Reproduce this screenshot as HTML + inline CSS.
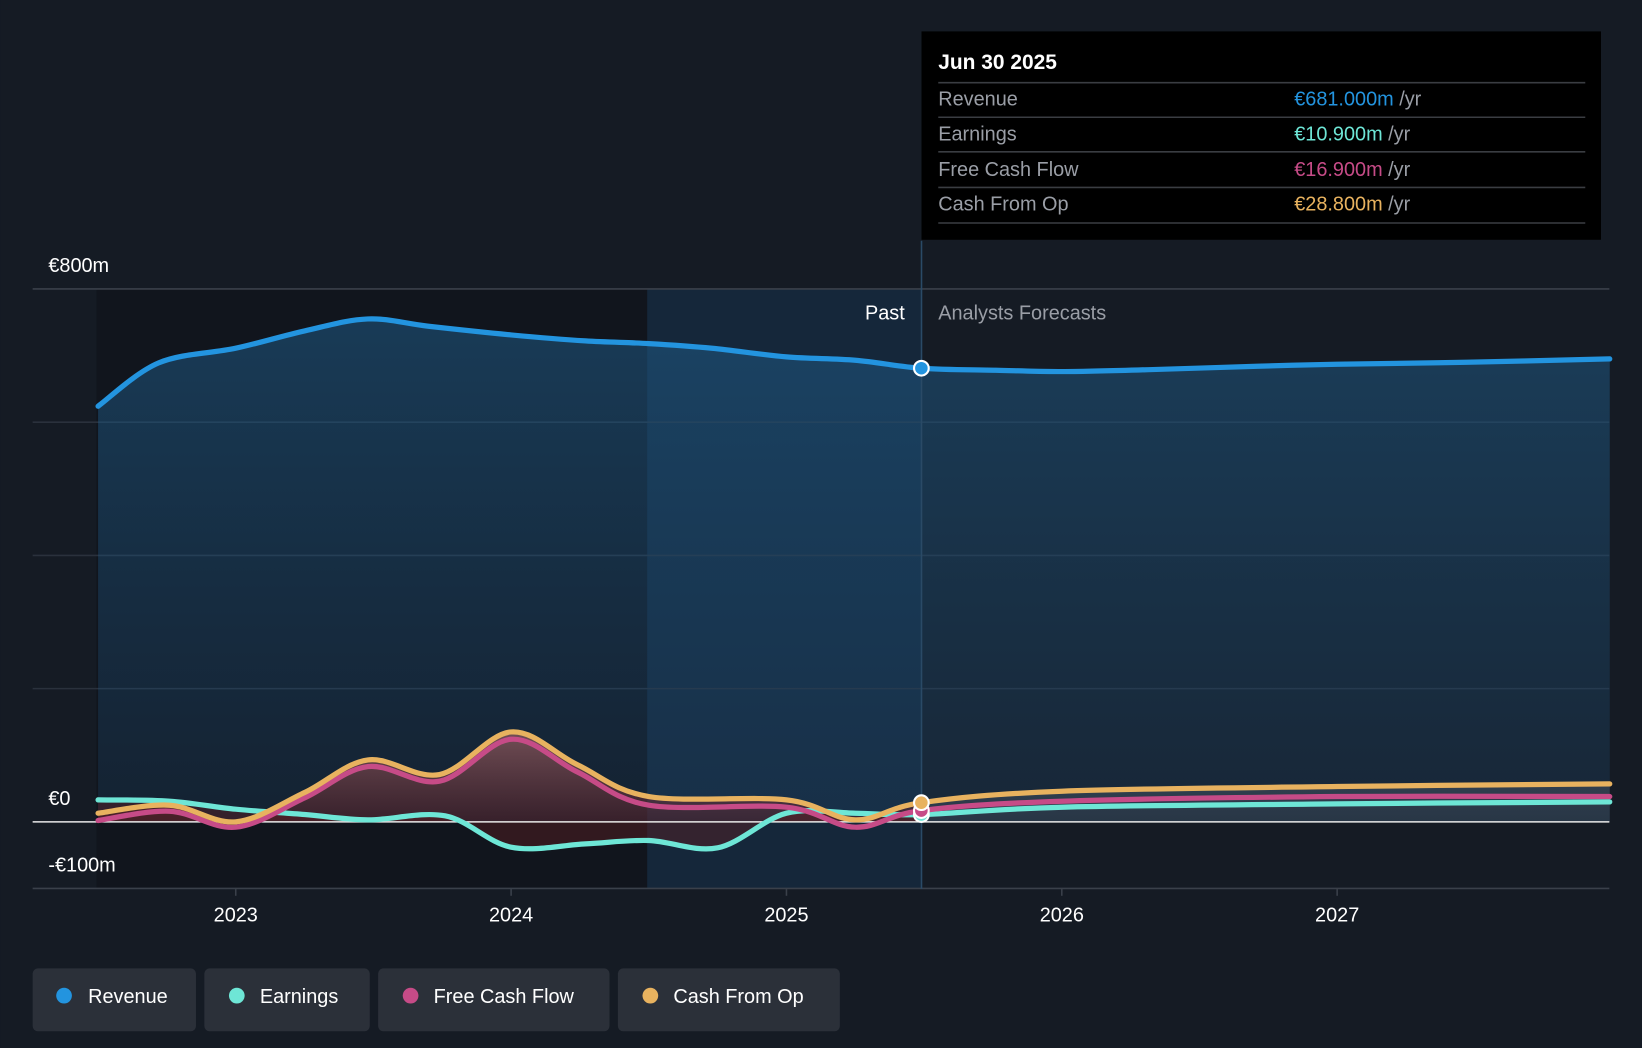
<!DOCTYPE html>
<html><head><meta charset="utf-8">
<style>
html,body{margin:0;padding:0;background:#151b24;}
svg{display:block;}
text{font-family:"Liberation Sans",sans-serif;}
</style></head>
<body>
<svg id="chart" width="1642" height="1048" viewBox="0 0 1568 1001" xmlns="http://www.w3.org/2000/svg">
<defs>
<linearGradient id="revFill" x1="0" y1="0" x2="0" y2="1">
<stop offset="0" stop-color="#1e5a86" stop-opacity="0.55"/>
<stop offset="1" stop-color="#1e4a70" stop-opacity="0.25"/>
</linearGradient>
<linearGradient id="cfFill" x1="0" y1="0" x2="0" y2="1">
<stop offset="0" stop-color="#b06a6a" stop-opacity="0.6"/>
<stop offset="1" stop-color="#5a1e24" stop-opacity="0.5"/>
</linearGradient>
<linearGradient id="fcFill" x1="0" y1="0" x2="0" y2="1">
<stop offset="0" stop-color="#8a8f98" stop-opacity="0.35"/>
<stop offset="1" stop-color="#6b7380" stop-opacity="0.2"/>
</linearGradient>
<clipPath id="pastClip"><rect x="0" y="0" width="880" height="1001"/></clipPath>
<clipPath id="futClip"><rect x="880" y="0" width="700" height="1001"/></clipPath>
</defs>
<rect x="0" y="0" width="1568" height="1001" fill="#151b24"/>
<rect x="92" y="276" width="526" height="573" fill="#11151d"/>
<rect x="618" y="276" width="262" height="573" fill="#15293d" opacity="0.9"/>
<g id="grid"></g>
<g id="areas"></g>
<g id="lines"></g>
<g id="axes"></g>
<line x1="880" y1="230" x2="880" y2="849" stroke="#2a4a66" stroke-width="1.5"/>
<text x="864" y="305" text-anchor="end" fill="#ffffff" font-size="19">Past</text>
<text x="896" y="305" fill="#9a9ea6" font-size="19">Analysts Forecasts</text>
<g id="markers"></g>

<g>
<rect x="880" y="30" width="649" height="199" fill="#000000"/>
<text x="896" y="66" fill="#ffffff" font-size="20" font-weight="bold">Jun 30 2025</text>
<line x1="896" y1="79" x2="1514" y2="79" stroke="#3a3d42" stroke-width="1.5"/>
<line x1="896" y1="112" x2="1514" y2="112" stroke="#3a3d42" stroke-width="1.5"/>
<line x1="896" y1="145" x2="1514" y2="145" stroke="#3a3d42" stroke-width="1.5"/>
<line x1="896" y1="179" x2="1514" y2="179" stroke="#3a3d42" stroke-width="1.5"/>
<line x1="896" y1="213" x2="1514" y2="213" stroke="#3a3d42" stroke-width="1.5"/>
<text x="896" y="101" fill="#9a9ea6" font-size="19">Revenue</text>
<text x="1236" y="101" font-size="19"><tspan fill="#2394df">€681.000m</tspan><tspan fill="#9a9ea6"> /yr</tspan></text>
<text x="896" y="134" fill="#9a9ea6" font-size="19">Earnings</text>
<text x="1236" y="134" font-size="19"><tspan fill="#6ee6d6">€10.900m</tspan><tspan fill="#9a9ea6"> /yr</tspan></text>
<text x="896" y="168" fill="#9a9ea6" font-size="19">Free Cash Flow</text>
<text x="1236" y="168" font-size="19"><tspan fill="#c64b87">€16.900m</tspan><tspan fill="#9a9ea6"> /yr</tspan></text>
<text x="896" y="201" fill="#9a9ea6" font-size="19">Cash From Op</text>
<text x="1236" y="201" font-size="19"><tspan fill="#e8b25f">€28.800m</tspan><tspan fill="#9a9ea6"> /yr</tspan></text>
</g>

<g>
<g>
<rect x="31" y="925" width="156" height="60" rx="5" fill="#2b3039"/>
<circle cx="61" cy="951" r="7.5" fill="#2394df"/>
<text x="84" y="958" fill="#ffffff" font-size="19">Revenue</text></g>
<g>
<rect x="195" y="925" width="158" height="60" rx="5" fill="#2b3039"/>
<circle cx="226" cy="951" r="7.5" fill="#6ee6d6"/>
<text x="248" y="958" fill="#ffffff" font-size="19">Earnings</text></g>
<g>
<rect x="361" y="925" width="221" height="60" rx="5" fill="#2b3039"/>
<circle cx="392" cy="951" r="7.5" fill="#c64b87"/>
<text x="414" y="958" fill="#ffffff" font-size="19">Free Cash Flow</text></g>
<g>
<rect x="590" y="925" width="212" height="60" rx="5" fill="#2b3039"/>
<circle cx="621" cy="951" r="7.5" fill="#e8b25f"/>
<text x="643" y="958" fill="#ffffff" font-size="19">Cash From Op</text></g>
</g>
</svg>
<script>
const revT = [2022.5,2022.72,2023.0,2023.25,2023.48,2023.7,2024.0,2024.27,2024.5,2024.73,2025.0,2025.25,2025.49,2025.76,2026.0,2026.33,2026.71,2027.0,2027.47,2027.99];
const revenue = [624,689,711,737,755,744,731,722,718,711,698,693,681,678,676,679,684,687,690,695];
const earnT = [2022.5,2022.76,2023.0,2023.25,2023.48,2023.76,2024.0,2024.27,2024.5,2024.75,2025.0,2025.25,2025.49,2026.0,2027.0,2027.99];
const earnings = [33,31,19,11,3,9,-38,-33,-28,-39,13,13,10.9,22,27,30];
const cfT = [2022.5,2022.76,2023.0,2023.25,2023.48,2023.74,2024.0,2024.24,2024.5,2025.0,2025.25,2025.49,2026.0,2027.0,2027.99];
const fcf = [2,16,-8,36,83,61,124,75,25,22,-8,16.9,31,38,38];
const cfo = [13,25,0,44,93,71,135,86,38,33,3,28.8,46,53,57];
const yTicks = [800,0,-100];
const yTickLabels = ["€800m","€0","-€100m"];
const gridVals = [800,600,400,200];
const xTicks = [2023,2024,2025,2026,2027];
const todayT = 2025.49;

const X0=225, PXY=263, Y0=785, PXV=509/800;
const xs = t => X0 + (t-2023)*PXY;
const ys = v => Y0 - v*PXV;
const NS="http://www.w3.org/2000/svg";
function mk(tag, attrs, parent){const e=document.createElementNS(NS,tag);for(const k in attrs)e.setAttribute(k,attrs[k]);parent.appendChild(e);return e;}
function smooth(pts){
  let d=`M${pts[0][0]},${pts[0][1]}`;
  for(let i=0;i<pts.length-1;i++){
    const p0=pts[Math.max(0,i-1)],p1=pts[i],p2=pts[i+1],p3=pts[Math.min(pts.length-1,i+2)];
    const c1=[p1[0]+(p2[0]-p0[0])/6,p1[1]+(p2[1]-p0[1])/6];
    const c2=[p2[0]-(p3[0]-p1[0])/6,p2[1]-(p3[1]-p1[1])/6];
    d+=` C${c1[0]},${c1[1]} ${c2[0]},${c2[1]} ${p2[0]},${p2[1]}`;
  }
  return d;
}
const pts=(T,V)=>T.map((t,i)=>[xs(t),ys(V[i])]);
const grid=document.getElementById('grid'), areas=document.getElementById('areas'), lines=document.getElementById('lines'), axes=document.getElementById('axes'), markers=document.getElementById('markers');

gridVals.forEach(v=>{
  const l=mk('line',{x1:31,x2:1537,y1:ys(v),y2:ys(v),stroke:v===800?'#3a404a':'#2a313c','stroke-width':1.5},grid);
  
  
});
yTicks.forEach((v,i)=>{
  const t=mk('text',{x:46,y:v===-100?ys(v)-16:ys(v)-16,fill:'#ffffff','font-size':19},axes);
  t.textContent=yTickLabels[i];
  
  
});
const ax=mk('line',{x1:31,x2:1537,y1:ys(-100),y2:ys(-100),stroke:'#3a404a','stroke-width':1.5},axes);


xTicks.forEach(y=>{
  mk('line',{x1:xs(y),x2:xs(y),y1:ys(-100),y2:ys(-100)+7,stroke:'#3a404a','stroke-width':1.5},axes);
  const t=mk('text',{x:xs(y),y:880,fill:'#ffffff','font-size':19,'text-anchor':'middle'},axes);
  t.textContent=y;
  
  
});

// areas
const rp=pts(revT,revenue);
const ra=mk('path',{d:smooth(rp)+` L${rp[rp.length-1][0]},${Y0} L${rp[0][0]},${Y0} Z`,fill:'url(#revFill)'},areas);


const cp=pts(cfT,cfo);
const cfD=smooth(cp)+` L${cp[cp.length-1][0]},${Y0} L${cp[0][0]},${Y0} Z`;
const ca=mk('path',{d:cfD,fill:'url(#cfFill)','clip-path':'url(#pastClip)'},areas);


const cf=mk('path',{d:cfD,fill:'url(#fcFill)','clip-path':'url(#futClip)'},areas);


const ep=pts(earnT,earnings);
const ea=mk('path',{d:smooth(ep)+` L${ep[ep.length-1][0]},${Y0} L${ep[0][0]},${Y0} Z`,fill:'#5a1e24',opacity:0.45,'clip-path':'url(#pastClip)'},areas);



const zl=mk('line',{x1:31,x2:1537,y1:Y0,y2:Y0,stroke:'#e8e8e8','stroke-width':1.5},lines);



function series(T,V,color,name){
  const p=mk('path',{d:smooth(pts(T,V)),fill:'none',stroke:color,'stroke-width':5,'stroke-linecap':'round'},lines);
  
  
}
series(earnT,earnings,'#6ee6d6','earnings');
series(cfT,fcf,'#c64b87','free-cash-flow');
series(cfT,cfo,'#e8b25f','cash-from-op');
series(revT,revenue,'#2394df','revenue');

function marker(T,V,color,name){
  const i=T.indexOf(todayT);
  const c=mk('circle',{cx:xs(T[i]),cy:ys(V[i]),r:7,fill:color,stroke:'#ffffff','stroke-width':2},markers);
  
  
}
marker(earnT,earnings,'#6ee6d6','earnings');
marker(cfT,fcf,'#c64b87','free-cash-flow');
marker(cfT,cfo,'#e8b25f','cash-from-op');
marker(revT,revenue,'#2394df','revenue');
</script>
</body></html>
